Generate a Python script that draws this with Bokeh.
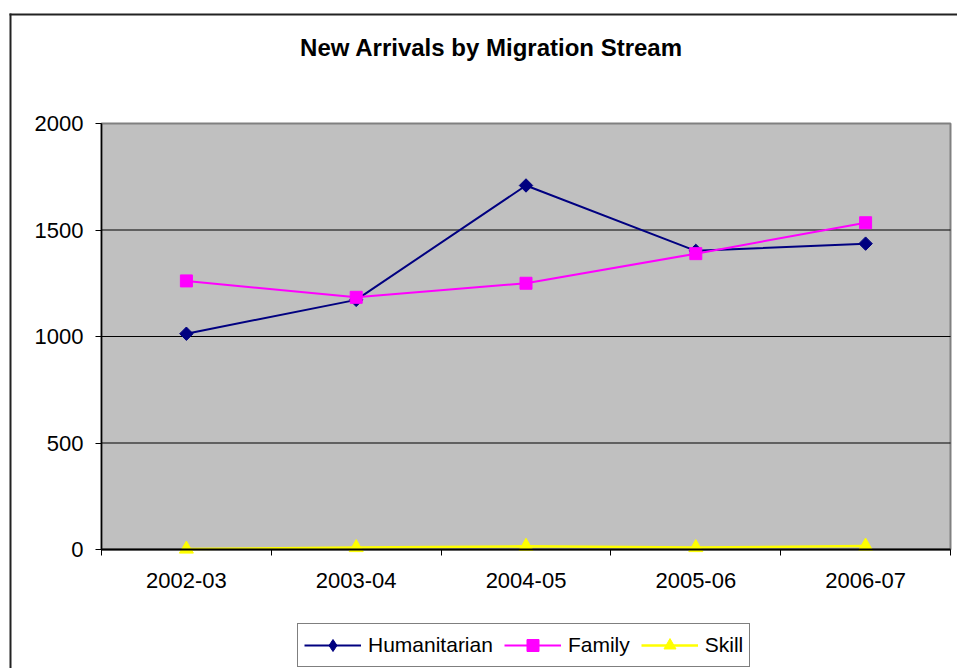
import numpy as np
from bokeh.plotting import figure
from bokeh.models import (Range1d, FixedTicker, Legend, LegendItem, ColumnDataSource,
                          LinearAxis, Label, BoxAnnotation)
from bokeh.embed import file_html
from bokeh.resources import INLINE

# Financial years and arrivals per migration stream
years = ["2002-03", "2003-04", "2004-05", "2005-06", "2006-07"]
humanitarian = [1013, 1172, 1709, 1402, 1436]
family = [1261, 1184, 1250, 1389, 1534]
skill = [2, 9, 15, 9, 16]
y_ticks = [0, 500, 1000, 1500, 2000]
grid_vals = [500, 1000, 1500]

FONT = "Liberation Sans"
W, H = 957, 668
# pixel box of the grey plotting area inside the page
PX_L, PX_R, PX_T, PX_B = 101, 950, 123, 549

xpos = list(range(1, len(years) + 1))
x_lo, x_hi = 0.5, len(years) + 0.5
y_lo, y_hi = y_ticks[0], y_ticks[-1]
ux = (PX_R - PX_L) / (x_hi - x_lo)
uy = (PX_B - PX_T) / (y_hi - y_lo)

src = ColumnDataSource(dict(x=xpos, year=years, hum=humanitarian, fam=family, ski=skill))

p = figure(width=W, height=H, output_backend="svg", toolbar_location=None,
           x_range=Range1d(x_lo - PX_L / ux, x_hi + (W - PX_R) / ux),
           y_range=Range1d(y_lo - (H - PX_B) / uy, y_hi + PX_T / uy),
           x_axis_location=None, y_axis_location=None,
           min_border=0, min_border_left=0, min_border_right=0,
           min_border_top=0, min_border_bottom=0,
           background_fill_color="white", border_fill_color="white",
           outline_line_color=None)
p.xgrid.visible = False
p.ygrid.visible = False

# Grey plotting area with its grey frame
p.quad(left=x_lo, right=x_hi, bottom=y_lo, top=y_hi, fill_color="#C0C0C0",
       line_color="#808080", line_width=2)
# Horizontal gridlines
p.segment(x0=[x_lo] * len(grid_vals), x1=[x_hi] * len(grid_vals), y0=grid_vals,
          y1=grid_vals, line_color="black", line_width=1)

# Axes pinned to the edges of the plotting area
yaxis = LinearAxis(fixed_location=x_lo, bounds=(y_lo, y_hi), ticker=FixedTicker(ticks=y_ticks),
                   major_tick_out=6, major_tick_in=0, minor_tick_line_color=None,
                   major_label_standoff=12, axis_line_color="black", axis_line_width=1.5)
xaxis = LinearAxis(fixed_location=y_lo, bounds=(x_lo, x_hi),
                   ticker=FixedTicker(ticks=xpos, minor_ticks=[i + 0.5 for i in range(len(years) + 1)]),
                   major_label_overrides={i: y for i, y in zip(xpos, years)},
                   major_tick_out=0, major_tick_in=0, minor_tick_out=6, minor_tick_in=0,
                   minor_tick_line_color="black", major_label_standoff=17,
                   axis_line_color="black", axis_line_width=2)
for ax in (xaxis, yaxis):
    ax.major_label_text_font = FONT
    ax.major_label_text_font_size = "22px"
    ax.major_label_text_color = "black"
    ax.major_tick_line_color = "black"
p.add_layout(yaxis, "left")
p.add_layout(xaxis, "below")

# Series
l1 = p.line("x", "hum", source=src, line_color="#000080", line_width=2)
m1 = p.scatter("x", "hum", source=src, marker="square", angle=np.pi / 4, size=9.5,
               fill_color="#000080", line_color="#000080")
l2 = p.line("x", "fam", source=src, line_color="#FF00FF", line_width=2)
m2 = p.scatter("x", "fam", source=src, marker="square", size=12,
               fill_color="#FF00FF", line_color="#FF00FF")
l3 = p.line("x", "ski", source=src, line_color="#FFFF00", line_width=2.5)
m3 = p.scatter("x", "ski", source=src, marker="triangle", size=14,
               fill_color="#FFFF00", line_color="#FFFF00")
# legend key for the diamond marker (holds no plotted point)
k1 = p.scatter(x=[np.nan], y=[np.nan], marker="diamond", size=12,
               fill_color="#000080", line_color="#000080")

legend = Legend(items=[LegendItem(label="Humanitarian", renderers=[l1, k1]),
                       LegendItem(label="Family", renderers=[l2, m2]),
                       LegendItem(label="Skill", renderers=[l3, m3])],
                orientation="horizontal", location=(297, 1), margin=0,
                padding=6, spacing=11, label_standoff=7,
                glyph_width=57, glyph_height=30,
                label_text_font=FONT, label_text_font_size="21px", label_text_color="black",
                border_line_color="black", border_line_width=1.5,
                background_fill_color="white", background_fill_alpha=1)
p.add_layout(legend, "center")

# Chart title
p.add_layout(Label(x=491, y=H - 47, x_units="screen", y_units="screen",
                   text="New Arrivals by Migration Stream", text_align="center",
                   text_baseline="middle", text_font=FONT, text_font_size="24px",
                   text_font_style="bold", text_color="black"))

# Outer chart border: left and top edges as thin filled bars
for box in (dict(left=9, right=11, top=H - 13, bottom=-50),
            dict(left=9, right=W + 50, top=H - 13, bottom=H - 15)):
    p.add_layout(BoxAnnotation(**box, left_units="screen", right_units="screen",
                               top_units="screen", bottom_units="screen",
                               fill_color="#222222", fill_alpha=1, line_color=None))

open("out.html", "w").write(file_html(p, INLINE))
